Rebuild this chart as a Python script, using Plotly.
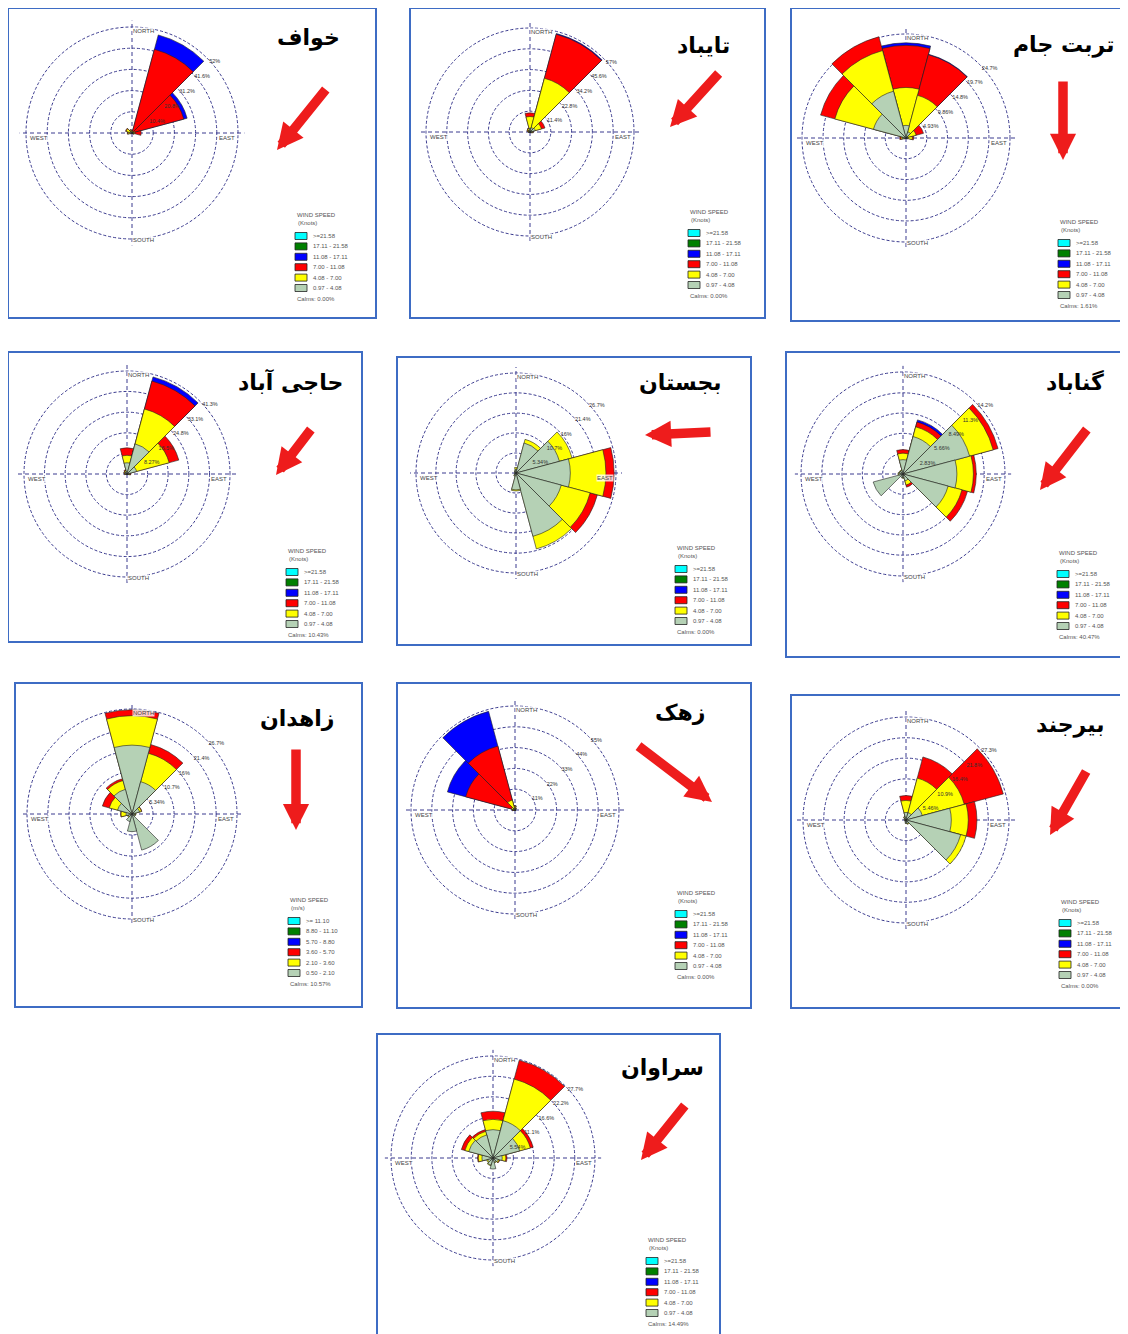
import plotly.graph_objects as go

# The page body has an 8px margin, so the figure is drawn 8px smaller and
# every reference pixel position below is shifted by OFF.
OFF = 8
W, H = 1128 - OFF, 1334 - OFF

# ---------------- data ----------------
DIRECTIONS = [0, 30, 60, 90, 120, 150, 180, 210, 240, 270, 300, 330]
BIN_COLORS = ["#b5d1b5", "#ffff00", "#ff0000", "#0000ff", "#008000", "#00ffff"]  # inner -> outer
KNOT_LABELS = [">=21.58", "17.11 - 21.58", "11.08 - 17.11", "7.00 - 11.08", "4.08 - 7.00", "0.97 - 4.08"]
MS_LABELS = [">= 11.10", "8.80 - 11.10", "5.70 - 8.80", "3.60 - 5.70", "2.10 - 3.60", "0.50 - 2.10"]
CARDINALS = ["NORTH", "EAST", "SOUTH", "WEST"]

# cumulative % per speed class (grey, yellow, red, blue) for the 12 directions
khaf_grey   = [0.3, 0.4, 0.4, 0.5, 0.3, 0.2, 0.1, 0.1, 0.3, 0.8, 1.0, 0.5]
khaf_yellow = [0.8, 1.0, 1.0, 1.5, 0.6, 0.3, 0.2, 0.2, 0.6, 2.0, 3.0, 1.5]
khaf_red    = [1.2, 42.5, 26.3, 4.5, 1.0, 0.4, 0.3, 0.3, 0.8, 2.3, 3.3, 1.8]
khaf_blue   = [1.2, 49.8, 28.0, 4.5, 1.0, 0.4, 0.3, 0.3, 0.8, 2.3, 3.3, 1.8]
khaf_ticks  = [10.4, 20.8, 31.2, 41.6, 52]

tayabad_grey   = [2.0, 2.5, 3.0, 1.0, 0.5, 0.3, 0.2, 0.2, 0.3, 0.5, 0.8, 1.0]
tayabad_yellow = [8.5, 30.5, 6.5, 1.5, 0.8, 0.4, 0.3, 0.3, 0.5, 0.8, 1.5, 2.0]
tayabad_red    = [10.5, 55.5, 8.5, 1.8, 0.9, 0.5, 0.3, 0.3, 0.5, 0.9, 1.8, 2.3]
tayabad_blue   = [10.5, 55.9, 8.5, 1.8, 0.9, 0.5, 0.3, 0.3, 0.5, 0.9, 1.8, 2.3]
tayabad_ticks  = [11.4, 22.8, 34.2, 45.6, 57]

torbat_grey   = [3.0, 1.5, 0.5, 0.5, 0.2, 0.1, 0.1, 0.1, 0.2, 0.8, 8.0, 11.5]
torbat_yellow = [12.0, 10.5, 2.5, 1.5, 0.3, 0.2, 0.1, 0.1, 0.3, 1.2, 17.5, 21.5]
torbat_red    = [22.0, 20.5, 4.3, 1.8, 0.4, 0.2, 0.1, 0.1, 0.4, 1.5, 21.0, 24.9]
torbat_blue   = [22.6, 20.6, 4.3, 1.8, 0.4, 0.2, 0.1, 0.1, 0.4, 1.5, 21.0, 24.9]
torbat_ticks  = [4.93, 9.86, 14.8, 19.7, 24.7]

haji_grey   = [4.5, 12.5, 4.0, 0.8, 0.3, 0.2, 0.2, 0.2, 0.3, 0.6, 0.8, 1.0]
haji_yellow = [7.5, 27.0, 17.5, 1.2, 0.5, 0.3, 0.3, 0.3, 0.4, 0.9, 1.2, 1.5]
haji_red    = [10.5, 38.6, 21.5, 1.5, 0.6, 0.3, 0.3, 0.3, 0.5, 1.0, 1.4, 1.8]
haji_blue   = [10.5, 40.3, 21.5, 1.5, 0.6, 0.3, 0.3, 0.3, 0.5, 1.0, 1.4, 1.8]
haji_ticks  = [8.27, 16.5, 24.8, 33.1, 41.3]

bajestan_grey   = [1.0, 8.3, 12.0, 14.5, 12.5, 17.5, 4.5, 0.8, 0.5, 0.4, 0.4, 0.6]
bajestan_yellow = [1.5, 9.3, 15.5, 24.0, 20.5, 21.0, 4.8, 0.9, 0.5, 0.4, 0.4, 0.7]
bajestan_red    = [1.5, 9.3, 15.5, 26.2, 22.5, 21.0, 4.8, 0.9, 0.5, 0.4, 0.4, 0.7]
bajestan_blue   = [1.5, 9.3, 15.5, 26.2, 22.5, 21.0, 4.8, 0.9, 0.5, 0.4, 0.4, 0.7]
bajestan_ticks  = [5.34, 10.7, 16, 21.4, 26.7]

gonabad_grey   = [2.0, 5.4, 9.6, 7.5, 6.5, 1.0, 0.5, 0.5, 4.3, 0.6, 0.5, 0.5]
gonabad_yellow = [2.9, 6.8, 13.0, 9.8, 8.5, 1.6, 0.6, 0.5, 4.3, 0.7, 0.6, 0.6]
gonabad_red    = [3.4, 7.5, 13.7, 10.2, 9.3, 1.9, 0.6, 0.5, 4.3, 0.7, 0.6, 0.6]
gonabad_blue   = [3.4, 7.8, 13.7, 10.2, 9.3, 1.9, 0.6, 0.5, 4.3, 0.7, 0.6, 0.6]
gonabad_ticks  = [2.83, 5.66, 8.49, 11.3, 14.2]

zahedan_grey   = [17.5, 8.5, 2.0, 0.8, 0.8, 9.5, 4.5, 2.0, 1.0, 1.5, 3.8, 6.5]
zahedan_yellow = [25.0, 16.0, 2.5, 1.0, 0.9, 9.5, 4.5, 2.0, 1.2, 2.8, 6.0, 8.8]
zahedan_red    = [26.5, 18.3, 2.6, 1.0, 0.9, 9.5, 4.5, 2.0, 1.2, 2.9, 7.8, 9.3]
zahedan_blue   = [26.5, 18.3, 2.6, 1.0, 0.9, 9.5, 4.5, 2.0, 1.2, 2.9, 7.8, 9.3]
zahedan_ticks  = [5.34, 10.7, 16, 21.4, 26.7]

zahak_grey   = [1.0, 0.5, 0.3, 0.3, 0.2, 0.2, 0.2, 0.2, 0.3, 0.5, 0.5, 1.0]
zahak_yellow = [2.0, 1.0, 0.6, 0.5, 0.3, 0.3, 0.3, 0.3, 0.5, 1.0, 2.0, 5.5]
zahak_red    = [2.2, 1.1, 0.6, 0.5, 0.3, 0.3, 0.3, 0.3, 0.6, 1.3, 27.0, 35.0]
zahak_blue   = [2.3, 1.1, 0.6, 0.5, 0.3, 0.3, 0.3, 0.3, 0.6, 1.5, 37.0, 54.0]
zahak_ticks  = [11, 22, 33, 44, 55]

birjand_grey   = [2.0, 2.0, 4.5, 12.0, 15.0, 1.0, 0.8, 0.5, 0.3, 0.3, 0.5, 0.8]
birjand_yellow = [5.2, 11.5, 16.0, 16.5, 16.5, 1.2, 0.9, 0.5, 0.3, 0.4, 0.6, 1.0]
birjand_red    = [6.5, 17.3, 26.7, 18.8, 16.5, 1.2, 0.9, 0.5, 0.3, 0.4, 0.6, 1.0]
birjand_blue   = [6.5, 17.3, 26.7, 18.8, 16.5, 1.2, 0.9, 0.5, 0.3, 0.4, 0.6, 1.0]
birjand_ticks  = [5.46, 10.9, 16.4, 21.8, 27.3]

saravan_grey   = [7.7, 10.5, 7.5, 2.5, 1.5, 1.2, 3.0, 2.0, 1.5, 3.0, 6.8, 6.5]
saravan_yellow = [10.5, 22.2, 10.5, 3.5, 1.8, 1.4, 3.0, 2.2, 1.8, 4.0, 7.9, 7.5]
saravan_red    = [12.7, 27.5, 11.3, 3.8, 1.9, 1.4, 3.0, 2.2, 1.8, 4.2, 8.9, 8.0]
saravan_blue   = [12.7, 27.5, 11.3, 3.8, 1.9, 1.4, 3.0, 2.2, 1.8, 4.2, 8.9, 8.0]
saravan_ticks  = [5.54, 11.1, 16.6, 22.2, 27.7]

STATION_NAMES = ["خواف", "تایباد", "تربت جام", "حاجی آباد", "بجستان",
                 "گناباد", "زاهدان", "زهک", "بیرجند", "سراوان"]
CALMS = ["0.00%", "0.00%", "1.61%", "10.43%", "0.00%",
         "40.47%", "10.57%", "0.00%", "0.00%", "14.49%"]
UNITS = ["(Knots)"] * 6 + ["(m/s)"] + ["(Knots)"] * 3

STATION_SERIES = [
    (khaf_grey, khaf_yellow, khaf_red, khaf_blue, khaf_ticks),
    (tayabad_grey, tayabad_yellow, tayabad_red, tayabad_blue, tayabad_ticks),
    (torbat_grey, torbat_yellow, torbat_red, torbat_blue, torbat_ticks),
    (haji_grey, haji_yellow, haji_red, haji_blue, haji_ticks),
    (bajestan_grey, bajestan_yellow, bajestan_red, bajestan_blue, bajestan_ticks),
    (gonabad_grey, gonabad_yellow, gonabad_red, gonabad_blue, gonabad_ticks),
    (zahedan_grey, zahedan_yellow, zahedan_red, zahedan_blue, zahedan_ticks),
    (zahak_grey, zahak_yellow, zahak_red, zahak_blue, zahak_ticks),
    (birjand_grey, birjand_yellow, birjand_red, birjand_blue, birjand_ticks),
    (saravan_grey, saravan_yellow, saravan_red, saravan_blue, saravan_ticks),
]

# ---------------- layout (reference pixels) ----------------
BORDERS = [(8, 8, 376, 318), (410, 8, 765, 318), (791, 8, 1132, 321),
           (8, 352, 362, 642), (397, 357, 751, 645), (786, 352, 1132, 657),
           (15, 683, 362, 1007), (397, 683, 751, 1008), (791, 695, 1132, 1008),
           (377, 1034, 720, 1338)]
CENTERS = [(132, 133, 106), (530, 132, 104), (906, 138, 104),
           (127, 474, 103), (516, 473, 100), (903, 474, 102),
           (132, 814, 105), (515, 810, 104), (906, 820, 103),
           (493, 1158, 102)]
TITLE_POS = [(308, 38), (703, 45), (1063, 45), (290, 381), (680, 382),
             (1075, 382), (297, 718), (680, 712), (1070, 725), (662, 1068)]
ARROWS = [((277, 150), (327, 88)), ((670, 127), (720, 72)), ((1063, 160), (1063, 80)),
          ((276, 475), (312, 428)), ((645, 435), (712, 432)), ((1040, 490), (1088, 428)),
          ((296, 830), (296, 748)), ((712, 802), (637, 745)), ((1050, 835), (1087, 770)),
          ((641, 1160), (686, 1104))]
LEGEND_POS = [(295, 215), (688, 212), (1058, 222), (286, 551), (675, 548),
              (1057, 553), (288, 900), (675, 893), (1059, 902), (646, 1240)]

GRID = "#3b3b8f"
RAD_ANGLE = 45
EXT = 1.06          # cross lines run a little past the outer ring


def px(x):
    return (x - OFF) / W


def py(y):
    return 1 - (y - OFF) / H


fig = go.Figure()
layout_polars = {}
shapes = []
annotations = []
small_font = dict(size=6, color="#444444", family="Liberation Sans")

for i, (grey, yellow, red, blue, ticks) in enumerate(STATION_SERIES):
    key = "polar" if i == 0 else f"polar{i + 1}"
    cums = [grey, yellow, red, blue]
    for b in reversed(range(len(cums))):
        prev = cums[b - 1] if b > 0 else [0] * len(DIRECTIONS)
        r = [c if c > p + 1e-9 else None for c, p in zip(cums[b], prev)]
        fig.add_trace(go.Barpolar(
            r=r, theta=DIRECTIONS, width=[30] * len(DIRECTIONS),
            marker=dict(color=BIN_COLORS[b], line=dict(color="#222222", width=0.6)),
            subplot=key, showlegend=False, hoverinfo="skip"))
    cx, cy, R = CENTERS[i]
    Rd = R * EXT
    layout_polars[key] = dict(
        domain=dict(x=[px(cx - Rd), px(cx + Rd)], y=[py(cy + Rd), py(cy - Rd)]),
        bgcolor="rgba(0,0,0,0)",
        barmode="overlay",
        radialaxis=dict(range=[0, ticks[-1] * EXT], tickmode="array", tickvals=ticks,
                        ticktext=[f"{t:g}%" for t in ticks], angle=RAD_ANGLE,
                        tickangle=RAD_ANGLE, side="clockwise",
                        showline=False, ticks="", gridcolor=GRID, gridwidth=1,
                        griddash="3px,2px", tickfont=dict(size=5.5, color="#333333",
                                                          family="Liberation Sans")),
        angularaxis=dict(rotation=90, direction="clockwise", tickmode="array",
                         tickvals=[0, 90, 180, 270], showticklabels=False,
                         showline=False, ticks="", gridcolor=GRID, gridwidth=1,
                         griddash="4px,3px"),
    )
    # cardinal labels sit just inside the outer ring
    card_pos = [(cx + 11, cy - R + 4, "center"), (cx + R - 2, cy + 5, "right"),
                (cx + 11, cy + R + 1, "center"), (cx - R + 3, cy + 5, "left")]
    for (ax_, ay_, anc), lab in zip(card_pos, CARDINALS):
        annotations.append(dict(x=px(ax_), y=py(ay_), xref="paper", yref="paper",
                                text=lab, showarrow=False, font=small_font,
                                xanchor=anc, yanchor="middle",
                                bgcolor="rgba(255,255,255,0.8)", borderpad=0))

    # panel border
    x0, y0, x1, y1 = BORDERS[i]
    shapes.append(dict(type="rect", xref="paper", yref="paper",
                       x0=px(x0), x1=px(x1), y0=py(y1), y1=py(y0),
                       line=dict(color="#3e6cc4", width=2), fillcolor="rgba(0,0,0,0)"))
    # title
    tx, ty = TITLE_POS[i]
    annotations.append(dict(x=px(tx), y=py(ty), xref="paper", yref="paper",
                            text=f"<b>{STATION_NAMES[i]}</b>", showarrow=False,
                            font=dict(size=22, color="black", family="DejaVu Sans"),
                            xanchor="center", yanchor="middle"))
    # arrow
    (hx, hy), (sx, sy) = ARROWS[i]
    annotations.append(dict(x=px(hx), y=py(hy), xref="paper", yref="paper",
                            ax=sx - hx, ay=sy - hy, axref="pixel", ayref="pixel",
                            text="", showarrow=True, arrowhead=2, arrowsize=0.55,
                            arrowwidth=9.5, arrowcolor="#ee1c1c", standoff=0))
    # legend
    lx, ly = LEGEND_POS[i]
    labels = MS_LABELS if UNITS[i] == "(m/s)" else KNOT_LABELS
    legend_font = dict(size=6, color="#555555", family="Liberation Sans")
    annotations.append(dict(x=px(lx), y=py(ly), xref="paper", yref="paper",
                            text="WIND SPEED", showarrow=False, font=legend_font,
                            xanchor="left", yanchor="middle"))
    annotations.append(dict(x=px(lx + 1), y=py(ly + 8), xref="paper", yref="paper",
                            text=UNITS[i], showarrow=False, font=legend_font,
                            xanchor="left", yanchor="middle"))
    for k, lab in enumerate(labels):
        yy = ly + 21 + k * 10.4
        col = BIN_COLORS[len(BIN_COLORS) - 1 - k]
        shapes.append(dict(type="rect", xref="paper", yref="paper",
                           x0=px(lx), x1=px(lx + 12), y0=py(yy + 3.5), y1=py(yy - 3.5),
                           line=dict(color="#222222", width=0.8), fillcolor=col))
        annotations.append(dict(x=px(lx + 16), y=py(yy), xref="paper", yref="paper",
                                text=lab, showarrow=False, font=legend_font,
                                xanchor="left", yanchor="middle"))
    annotations.append(dict(x=px(lx), y=py(ly + 84), xref="paper", yref="paper",
                            text=f"Calms: {CALMS[i]}", showarrow=False, font=legend_font,
                            xanchor="left", yanchor="middle"))

fig.update_layout(
    width=W, height=H,
    margin=dict(l=0, r=0, t=0, b=0),
    paper_bgcolor="white",
    plot_bgcolor="white",
    showlegend=False,
    shapes=shapes,
    annotations=annotations,
    **layout_polars,
)

fig.write_html("out.html")
